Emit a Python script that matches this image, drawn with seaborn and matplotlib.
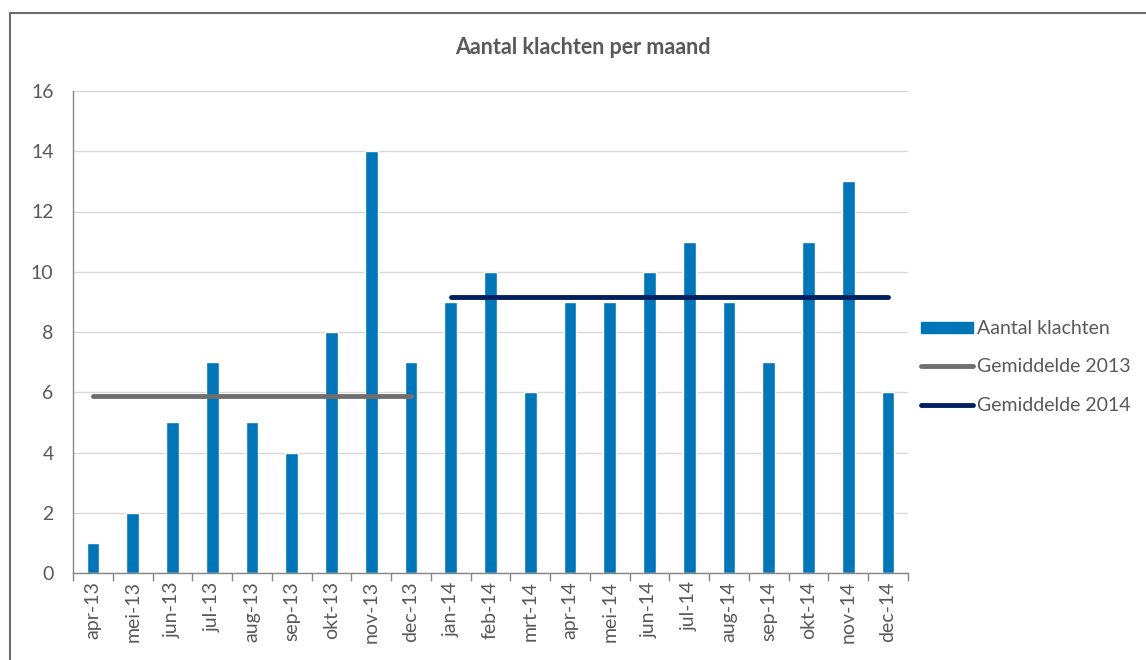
import matplotlib
matplotlib.use("Agg")
import matplotlib.pyplot as plt
import matplotlib.patches as mpatches
from matplotlib.lines import Line2D
import numpy as np
import seaborn as sns

# Maanden en aantal klachten
maanden = ["apr-13", "mei-13", "jun-13", "jul-13", "aug-13", "sep-13", "okt-13",
           "nov-13", "dec-13", "jan-14", "feb-14", "mrt-14", "apr-14", "mei-14",
           "jun-14", "jul-14", "aug-14", "sep-14", "okt-14", "nov-14", "dec-14"]
klachten = [1, 2, 5, 7, 5, 4, 8, 14, 7, 9, 10, 6, 9, 9, 10, 11, 9, 7, 11, 13, 6]
jaar = ["2013"] * 9 + ["2014"] * 12

sns.set_theme(style="white")
plt.rcParams["font.family"] = ["Lato", "DejaVu Sans"]

tekst_kleur = "#595959"
blauw = "#0075B8"
grijs = "#6F6F6F"
navy = "#002060"

fig = plt.figure(figsize=(11.46, 6.6), dpi=100)
ax = fig.add_axes([73 / 1146, 1 - 573 / 660, (908 - 73) / 1146, (573 - 91) / 660])

sns.barplot(x=maanden, y=klachten, color=blauw, width=0.32, saturation=1, ax=ax)

# Gemiddelden per jaar
for j, kleur in [("2013", grijs), ("2014", navy)]:
    idx = [i for i, y in enumerate(jaar) if y == j]
    gem = np.mean([klachten[i] for i in idx])
    ax.plot(idx, [gem] * len(idx), color=kleur, lw=3.5, solid_capstyle="round", zorder=3)

ax.set_xlim(-0.5, len(maanden) - 0.5)
ax.set_ylim(0, 16)
ax.set_yticks(range(0, 17, 2))
ax.yaxis.grid(True, color="#D9D9D9", lw=1)
ax.set_axisbelow(True)
for s in ["top", "right"]:
    ax.spines[s].set_visible(False)
for s in ["left", "bottom"]:
    ax.spines[s].set_color("#868686")
    ax.spines[s].set_linewidth(1)

ax.set_xticks(range(len(maanden)))
ax.set_xticklabels(maanden, rotation=90)
ax.set_xticks(np.arange(-0.5, len(maanden)), minor=True)
ax.tick_params(axis="x", which="major", length=0, pad=6, labelsize=14, labelcolor=tekst_kleur)
ax.tick_params(axis="x", which="minor", length=6, width=1, color="#868686", bottom=True)
ax.tick_params(axis="y", length=0, pad=14, labelsize=14, labelcolor=tekst_kleur)
ax.set_xlabel("")
ax.set_ylabel("")

fig.text(583 / 1146, 1 - 47 / 660, "Aantal klachten per maand", ha="center", va="center",
         fontsize=15.5, fontweight="bold", color=tekst_kleur)

handles = [mpatches.Patch(color=blauw, label="Aantal klachten"),
           Line2D([], [], color=grijs, lw=3.5, solid_capstyle="round", label="Gemiddelde 2013"),
           Line2D([], [], color=navy, lw=3.5, solid_capstyle="round", label="Gemiddelde 2014")]
leg = fig.legend(handles=handles, loc="center left", bbox_to_anchor=(913 / 1146, 1 - 367 / 660),
                 frameon=False, fontsize=14, handlelength=2.7, handleheight=0.5,
                 handletextpad=0.2, labelspacing=1.1, borderaxespad=0)
for t in leg.get_texts():
    t.set_color(tekst_kleur)

# Kader rond de grafiek
fig.add_artist(Line2D([9.5 / 1146, 9.5 / 1146], [0, 1 - 13 / 660], color="#6E6E6E", lw=1.5))
fig.add_artist(Line2D([9.5 / 1146, 1], [1 - 13 / 660, 1 - 13 / 660], color="#6E6E6E", lw=1.5))

fig.savefig("out.png", dpi=100)
